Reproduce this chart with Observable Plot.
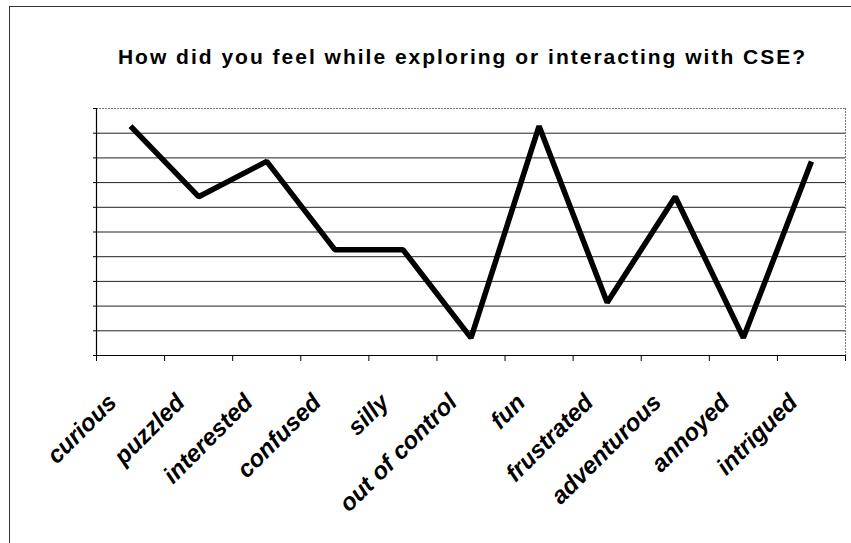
<!DOCTYPE html>
<html>
<head>
<meta charset="utf-8">
<script src="https://cdn.jsdelivr.net/npm/d3@7"></script>
<script src="https://cdn.jsdelivr.net/npm/@observablehq/plot@0.6"></script>
<style>
  html, body { margin: 0; padding: 0; background: #fff; }
  #wrap { position: relative; width: 851px; height: 543px; overflow: hidden; background: #fff; }
  #frame { position: absolute; left: 9px; top: 6px; right: -5px; bottom: -5px;
           border-left: 1.5px solid #333; border-top: 1.5px solid #333; pointer-events: none; }
  #title { position: absolute; left: 0; width: 925px; top: 45px; text-align: center;
           font-family: "Liberation Sans", Arial, sans-serif; font-weight: bold; font-size: 21px;
           color: #000; letter-spacing: 2px; white-space: nowrap; }
  #chart { position: absolute; left: 0; top: 0; }
</style>
</head>
<body>
<div id="wrap">
  <div id="chart"></div>
  <div id="frame"></div>
  <div id="title">How did you feel while exploring or interacting with CSE?</div>
</div>
<script>
const categories = ["curious", "puzzled", "interested", "confused", "silly", "out of control",
                    "fun", "frustrated", "adventurous", "annoyed", "intrigued"];
const counts = [13, 9, 11, 6, 6, 1, 13, 3, 9, 1, 11];
const yMax = 14;
const gridValues = d3.range(0, 10.5).map(i => i * 1.4);

const data = categories.map((c, i) => ({pos: i + 0.5, category: c, count: counts[i]}));

const chart = Plot.plot({
  width: 851,
  height: 543,
  marginLeft: 96,
  marginRight: 6,
  marginTop: 108,
  marginBottom: 188,
  style: {fontFamily: "'Liberation Sans', Arial, sans-serif", background: "transparent"},
  x: {domain: [0, categories.length], axis: null},
  y: {domain: [0, yMax], axis: null},
  marks: [
    Plot.gridY(gridValues.filter(v => v > 0 && v < yMax - 0.01), {stroke: "#222", strokeOpacity: 1, strokeWidth: 1}),
    Plot.ruleY([yMax], {stroke: "#777", strokeDasharray: "2,1", strokeWidth: 1}),
    Plot.ruleX([categories.length], {stroke: "#777", strokeDasharray: "2,1", strokeWidth: 1}),
    Plot.axisY(gridValues, {tickSize: 3, tickFormat: () => "", stroke: "#000", label: null}),
    Plot.ruleX([0], {stroke: "#000", strokeWidth: 1.2}),
    Plot.axisX(d3.range(0, categories.length + 1), {tickSize: 6, tickFormat: () => "", stroke: "#000", label: null}),
    Plot.axisX(data.map(d => d.pos), {
      tickSize: 0,
      tickRotate: -45,
      tickFormat: p => categories[Math.round(p - 0.5)],
      fontSize: 24,
      fontWeight: "bold",
      fontStyle: "italic",
      fill: "#000",
      label: null,
      dx: -18,
      dy: 31
    }),
    Plot.ruleY([0], {stroke: "#000", strokeWidth: 1.2}),
    Plot.line(data, {x: "pos", y: "count", stroke: "#000", strokeWidth: 5.5, strokeLinejoin: "miter", strokeLinecap: "butt"})
  ]
});
document.getElementById("chart").appendChild(chart);
</script>
</body>
</html>
